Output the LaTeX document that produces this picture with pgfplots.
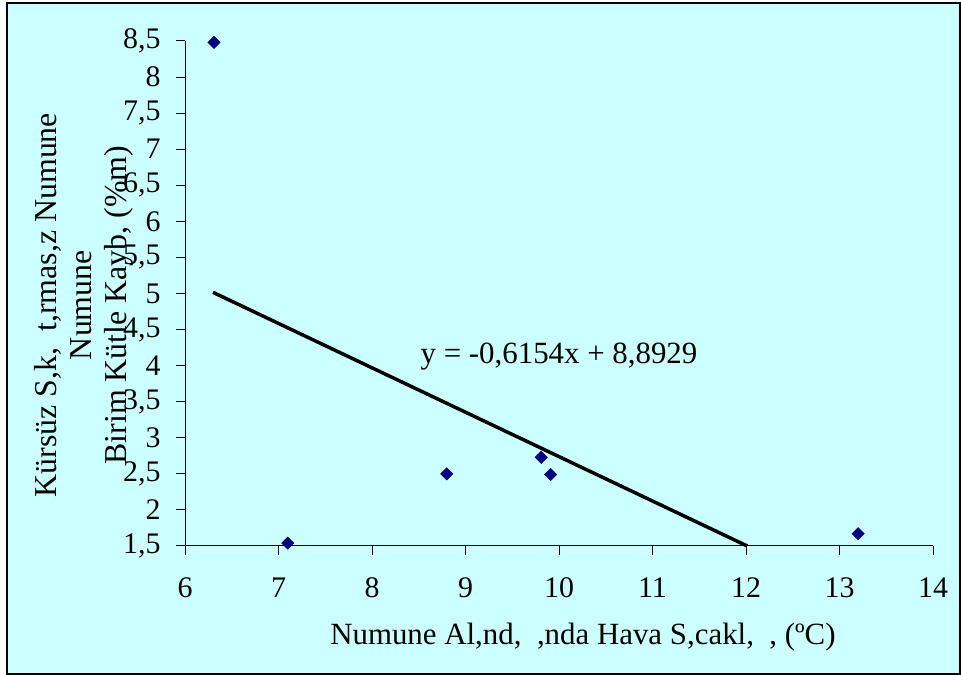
\documentclass[border=0pt]{standalone}
\usepackage{pgfplots}
\pgfplotsset{compat=1.18}
\usepackage{fontspec}
\setmainfont{Liberation Serif}
\definecolor{bgc}{RGB}{204,255,255}
\definecolor{mk}{RGB}{0,0,128}
\begin{document}
\fontsize{31}{36}\selectfont
\begin{tikzpicture}[x=1bp,y=1bp]
\useasboundingbox (0,0) rectangle (961,675);
\fill[bgc] (7,1) rectangle (960,672);
\draw[line width=1.5bp] (7,1) rectangle (960,672);
\begin{axis}[
  at={(185bp,129bp)}, anchor=south west,
  scale only axis, width=748bp, height=505bp,
  xmin=6, xmax=14, ymin=1.5, ymax=8.5,
  axis x line=bottom, axis y line=left,
  axis line style={-, line width=1bp, black},
  tick align=outside, major tick length=9bp,
  tick style={black, line width=1bp},
  xtick={6,7,8,9,10,11,12,13,14},
  ytick={1.5,2,2.5,3,3.5,4,4.5,5,5.5,6,6.5,7,7.5,8,8.5},
  /pgf/number format/use comma,
  /pgf/number format/assume math mode=true,
  tick label style={font=\fontsize{30}{36}\selectfont},
  xticklabel style={yshift=-12bp},
  yticklabel style={xshift=-5bp},
  clip=false,
  xlabel={Numune Al,nd,\ \ ,nda Hava S,cakl,\ \ , (ºC)},
  every axis x label/.style={at={(axis description cs:0.532,-0.180)}, anchor=center, font=\fontsize{31}{36}\selectfont},
  ylabel={Kürsüz S,k,\ \ t,rmas,z Numune\\Numune\\Birim Kütle Kayb, (\%m)},
  every axis y label/.style={at={(axis description cs:-0.135,0.477)}, anchor=center, rotate=90, align=center, font=\fontsize{32}{35}\selectfont},
]
\addplot[only marks, mark=square*, mark size=4.4bp, mark options={rotate=45, draw=mk, fill=mk}]
  coordinates {(6.31,8.48) (7.10,1.54) (8.80,2.50) (9.81,2.73) (9.91,2.49) (13.20,1.67)};
\addplot[black, line width=3.5bp] coordinates {(6.3,5.0159) (12.013,1.5)};
\node[font=\fontsize{31}{36}\selectfont] at (axis cs:10.0,4.12) {y = -0,6154x + 8,8929};
\end{axis}
\end{tikzpicture}
\end{document}
